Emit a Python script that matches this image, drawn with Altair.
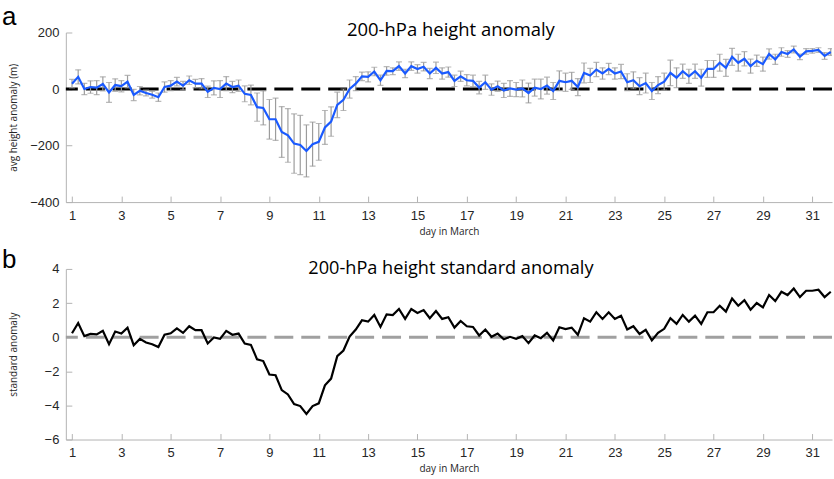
import altair as alt
import pandas as pd

# Six-hourly samples, 1 March 00 UTC through 31 March 18 UTC
days = [1 + 0.25 * i for i in range(124)]

# Mean 200-hPa height anomaly (m)
height_anom = [
    19, 43, 0, 7,        5, 18, -12, 14,      10, 26, -21, -6,     -14, -20, -29, 7,
    12, 26, 12, 31,      19, 19, -10, 4,      0, 19, 7, 12,        -17, -21, -64, -67,
    -107, -107, -152, -164,  -193, -198, -219, -195,  -187, -136, -115, -56,  -38, 0, 19, 45,
    43, 62, 31, 64,      63, 81, 55, 81,      71, 79, 55, 75,      55, 60, 29, 45,
    31, 29, 5, 24,       -2, 10, -5, 2,       -2, 2, -14, 5,       0, 12, -7, 29,
    24, 29, 7, 57,       48, 69, 55, 71,      55, 62, 24, 31,      10, 21, -7, 14,
    26, 57, 40, 63,      45, 63, 40, 71,      71, 93, 75, 114,     93, 107, 81, 100,
    88, 124, 105, 131,   124, 140, 114, 133,  135, 138, 117, 131,
]

# Spread of the height anomaly (half-length of the error bars, m)
height_err = [
    15, 25, 20, 22,   25, 25, 35, 22,   20, 22, 20, 15,   10, 12, 15, 18,
    18, 15, 15, 15,   15, 18, 20, 25,   30, 25, 20, 20,   28, 35, 50, 60,
    70, 75, 90, 95,   105, 105, 92, 78, 65, 60, 52, 45,   38, 32, 25, 15,
    18, 15, 18, 15,   12, 15, 15, 15,   15, 15, 18, 20,   20, 18, 20, 18,
    20, 20, 22, 25,   20, 18, 25, 28,   25, 30, 35, 30,   35, 30, 30, 35,
    32, 30, 30, 35,   25, 25, 20, 20,   20, 25, 30, 30,   30, 35, 30, 30,
    30, 45, 35, 25,   25, 25, 30, 30,   30, 30, 30, 30,   30, 25, 25, 20,
    25, 18, 18, 15,   12, 12, 10, 10,   8, 8, 12, 12,
]

# 200-hPa height standard anomaly
std_anom = [
    0.23, 0.83, 0.06, 0.19,   0.16, 0.37, -0.41, 0.33,   0.21, 0.56, -0.47, -0.10,
    -0.31, -0.41, -0.58, 0.14,   0.23, 0.52, 0.25, 0.64,   0.41, 0.41, -0.37, -0.02,
    -0.10, 0.37, 0.14, 0.21,   -0.37, -0.45, -1.30, -1.40,   -2.19, -2.23, -3.10, -3.36,
    -3.92, -4.04, -4.50, -4.04,   -3.88, -2.82, -2.43, -1.11,   -0.78, 0.04, 0.45, 0.99,
    0.91, 1.30, 0.60, 1.34,   1.30, 1.65, 1.07, 1.65,   1.42, 1.59, 1.11, 1.53,
    1.07, 1.17, 0.56, 0.95,   0.64, 0.60, 0.10, 0.45,   0.02, 0.21, -0.12, 0.02,
    -0.10, 0.06, -0.35, 0.10,   -0.06, 0.25, -0.19, 0.58,   0.47, 0.56, 0.14, 1.11,
    0.91, 1.46, 1.07, 1.46,   1.07, 1.26, 0.45, 0.64,   0.19, 0.43, -0.19, 0.25,
    0.49, 1.11, 0.78, 1.30,   0.91, 1.26, 0.78, 1.46,   1.46, 1.84, 1.50, 2.27,
    1.84, 2.17, 1.61, 2.00,   1.75, 2.47, 2.12, 2.66,   2.47, 2.85, 2.35, 2.72,
    2.72, 2.78, 2.35, 2.66,
]

x_ticks = list(range(1, 32, 2))
height_ticks = [-400, -200, 0, 200]
std_ticks = [-6, -4, -2, 0, 2, 4]
panel_titles = ["200-hPa height anomaly", "200-hPa height standard anomaly"]
panel_letters = ["a", "b"]

df = pd.DataFrame({"day": days, "hgt": height_anom, "err": height_err, "std": std_anom})
df["lo"] = df["hgt"] - df["err"]
df["hi"] = df["hgt"] + df["err"]
zero_df = pd.DataFrame({"v": [0]})

W = 768
AXIS_GREY = "#b4b4b4"
TEXT = "#262626"

x_enc = alt.X(
    "day:Q",
    scale=alt.Scale(domain=[0.75, 31.8], nice=False, zero=False),
    axis=alt.Axis(values=x_ticks, tickCount=len(x_ticks), format="d",
                  title="day in March", titleY=24, titleBaseline="top"),
)


def y_axis(title, ticks):
    return alt.Axis(values=ticks, tickCount=len(ticks), format="d", title=title,
                    titleAngle=270, titleX=-52, titleBaseline="middle",
                    labelOverlap=False)


def annotations(letter, letter_y, title, title_y, title_size):
    # panel letter at the far left and the panel heading centred over the plot
    lab = alt.Chart(pd.DataFrame({"t": [letter]})).mark_text(
        align="left", baseline="alphabetic", font="Liberation Sans",
        fontSize=26, color="#000",
    ).encode(x=alt.value(-64), y=alt.value(letter_y), text="t:N")
    head = alt.Chart(pd.DataFrame({"t": [title]})).mark_text(
        align="center", baseline="alphabetic", font="Open Sans",
        fontSize=title_size, color="#000",
    ).encode(x=alt.value(W / 2 + 2), y=alt.value(title_y), text="t:N")
    return lab + head


# Panel a: mean height anomaly with spread bars
base_a = alt.Chart(df).encode(x=x_enc)
y_a = alt.Scale(domain=[-400, 200], nice=False)

zero_a = alt.Chart(zero_df).mark_rule(color="#000", strokeWidth=3, strokeDash=[19, 8]).encode(
    y=alt.Y("v:Q", scale=y_a, axis=y_axis("avg height anomaly (m)", height_ticks))
)
bars = base_a.mark_rule(color="#9c9c9c", strokeWidth=1.2, clip=True).encode(
    y=alt.Y("lo:Q", scale=y_a), y2="hi:Q",
)
caps_lo = base_a.mark_tick(color="#9c9c9c", orient="horizontal", size=6,
                           thickness=1.2, clip=True).encode(y=alt.Y("lo:Q", scale=y_a))
caps_hi = base_a.mark_tick(color="#9c9c9c", orient="horizontal", size=6,
                           thickness=1.2, clip=True).encode(y=alt.Y("hi:Q", scale=y_a))
line_a = base_a.mark_line(color="#1a5aff", strokeWidth=2.2, clip=True).encode(
    y=alt.Y("hgt:Q", scale=y_a)
)

panel_a = alt.layer(
    zero_a, bars, caps_lo, caps_hi, line_a,
    annotations(panel_letters[0], -8, panel_titles[0], 4, 18.5),
).properties(width=W, height=170)

# Panel b: standard anomaly
base_b = alt.Chart(df).encode(x=x_enc)
y_b = alt.Scale(domain=[-6, 4], nice=False)

zero_b = alt.Chart(zero_df).mark_rule(color="#a0a0a0", strokeWidth=3, strokeDash=[19, 8]).encode(
    y=alt.Y("v:Q", scale=y_b, axis=y_axis("standard anomaly", std_ticks))
)
line_b = base_b.mark_line(color="#000", strokeWidth=2.2, clip=True).encode(
    y=alt.Y("std:Q", scale=y_b)
)

panel_b = alt.layer(
    zero_b, line_b,
    annotations(panel_letters[1], -1, panel_titles[1], 5, 18.2),
).properties(width=W, height=171)

chart = (
    alt.vconcat(panel_a, panel_b, spacing=67, bounds="flush")
    .properties(padding={"left": 2, "top": 3, "right": 0, "bottom": 4},
                background="white")
    .configure_view(stroke=None)
    .configure_axis(
        domainColor=AXIS_GREY, tickColor=AXIS_GREY, tickSize={"expr": "-6"},
        labelPadding=13, labelFont="Liberation Sans", labelFontSize=13,
        labelColor=TEXT, labelFlush=False, labelOverlap=False, grid=False,
        titleFont="Open Sans", titleFontSize=10, titleFontWeight="normal",
        titleColor=TEXT,
    )
)

chart.save("out.html", embed_options={"renderer": "svg", "actions": False})
